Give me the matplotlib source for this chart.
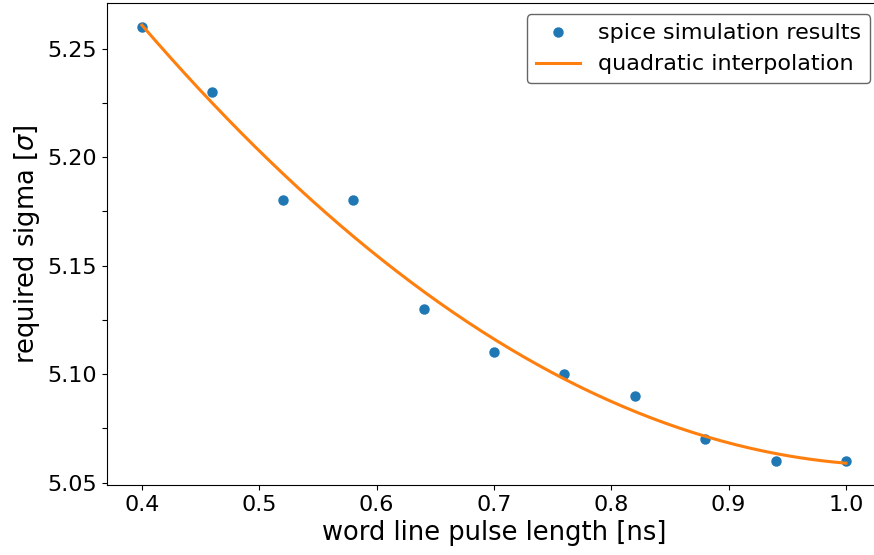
import numpy as np
import matplotlib
matplotlib.use("Agg")
import matplotlib.pyplot as plt

# pulse length [ns] and required sigma from spice runs
pulse_len = [0.40, 0.46, 0.52, 0.58, 0.64, 0.70, 0.76, 0.82, 0.88, 0.94, 1.00]
req_sigma = [5.26, 5.23, 5.18, 5.18, 5.13, 5.11, 5.10, 5.09, 5.07, 5.06, 5.06]

y_ticks = [5.05, 5.075, 5.10, 5.125, 5.15, 5.175, 5.20, 5.225, 5.25]
y_labels = ["5.05", "", "5.10", "", "5.15", "", "5.20", "", "5.25"]

# quadratic fit of the simulation points
coef = np.polyfit(pulse_len, req_sigma, 2)
x_fit = np.linspace(min(pulse_len), max(pulse_len), 200)
y_fit = np.polyval(coef, x_fit)

plt.rcParams['font.size'] = 16
fig = plt.figure(figsize=(8.74, 5.55), dpi=100)
# axes runs a bit past the right edge, like the reference crop
ax = fig.add_axes([0.1222, 0.126, 0.886, 0.868])

ax.plot(pulse_len, req_sigma, 'o', color='#1f77b4', markersize=6.5, label='spice simulation results')
ax.plot(x_fit, y_fit, '-', color='#ff7f0e', linewidth=2.2, label='quadratic interpolation')

ax.set_yticks(y_ticks)
ax.set_yticklabels(y_labels)
ax.tick_params(labelsize=16)
ax.set_xlabel('word line pulse length [ns]', fontsize=18.5)
ax.set_ylabel(r'required sigma [$\sigma$]', fontsize=18.5)

leg = ax.legend(loc='upper right', fontsize=16)
leg.get_frame().set_edgecolor('0.25')

fig.savefig('out.png', dpi=100)
